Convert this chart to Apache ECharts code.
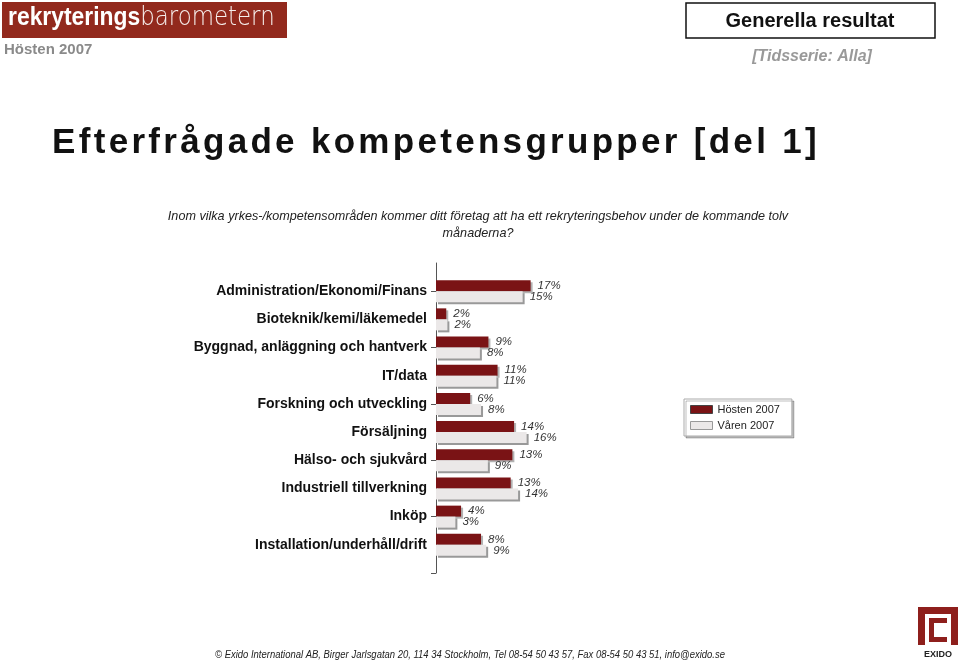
<!DOCTYPE html>
<html>
<head>
<meta charset="utf-8">
<script src="https://cdn.jsdelivr.net/npm/echarts@6/dist/echarts.min.js"></script>
<style>
    html, body { margin: 0; padding: 0; background: #fff; }
    #chart { width: 959px; height: 662px; }
</style>
</head>
<body>
<div id="chart"></div>
<script>
// kategorier (tomma poster i början och slutet ger axelns luft)
var categories = [
    "Administration/Ekonomi/Finans",
    "Bioteknik/kemi/läkemedel",
    "Byggnad, anläggning och hantverk",
    "IT/data",
    "Forskning och utveckling",
    "Försäljning",
    "Hälso- och sjukvård",
    "Industriell tillverkning",
    "Inköp",
    "Installation/underhåll/drift"
];
var seriesNames = ["Hösten 2007", "Våren 2007"];
var hosten2007 = [16.6, 1.8, 9.2, 10.8, 6.0, 13.7, 13.4, 13.1, 4.4, 7.9];
var varen2007 = [15.2, 2.0, 7.7, 10.6, 7.9, 15.9, 9.1, 14.4, 3.4, 8.8];

var red = "#7a1315";
var grey = "#ebe8e8";
var font = "'Liberation Sans', Arial, sans-serif";
var titleText = "Efterfrågade kompetensgrupper [del 1]";

function pad(arr) {
    return ["-"].concat(arr).concat(["-"]);
}

// rubriken har spärrad text, varje tecken blir en egen rich-token
function spaced(str) {
    return str.split("").map(function (ch) { return "{c|" + ch + "}"; }).join("");
}

function pctLabel(p) {
    return Math.round(p.value) + "%";
}

var myChart = echarts.init(document.getElementById("chart"));

var option = {
    backgroundColor: "#fff",
    animation: false,
    textStyle: { fontFamily: font },
    legend: {
        data: [
            { name: seriesNames[0], itemStyle: { borderColor: "#444", borderWidth: 1 } },
            { name: seriesNames[1], itemStyle: { borderColor: "#999", borderWidth: 1 } }
        ],
        orient: "vertical",
        left: 684,
        top: 399,
        itemWidth: 22,
        itemHeight: 8,
        itemGap: 5,
        padding: [5, 12, 5, 6],
        icon: "rect",
        backgroundColor: "#fff",
        borderColor: "#aaa",
        borderWidth: 1,
        shadowColor: "rgba(0,0,0,0.25)",
        shadowOffsetX: 2,
        shadowOffsetY: 2,
        shadowBlur: 0,
        textStyle: { fontSize: 11, color: "#222", fontFamily: font }
    },
    grid: { left: 436, top: 263, width: 228, height: 310 },
    xAxis: {
        type: "value",
        min: 0,
        max: 40,
        show: false
    },
    yAxis: {
        type: "category",
        inverse: true,
        boundaryGap: false,
        data: pad(categories).map(function (c) { return c === "-" ? "" : c; }),
        axisLine: { show: true, lineStyle: { color: "#555", width: 1 } },
        axisTick: {
            show: true,
            length: 5,
            interval: function (i) { return i % 2 === 1; },
            lineStyle: { color: "#555" }
        },
        axisLabel: {
            interval: 0,
            fontSize: 14,
            fontWeight: "bold",
            color: "#111",
            margin: 9,
            fontFamily: font
        },
        splitLine: { show: false }
    },
    series: [
        {
            name: seriesNames[0],
            type: "bar",
            data: pad(hosten2007),
            barWidth: 11,
            barGap: "0%",
            itemStyle: {
                color: red,
                shadowColor: "rgba(0,0,0,0.3)",
                shadowOffsetX: 2,
                shadowOffsetY: 2,
                shadowBlur: 0
            },
            label: {
                show: true,
                position: "right",
                distance: 7,
                formatter: pctLabel,
                fontStyle: "italic",
                fontSize: 11.5,
                color: "#333",
                fontFamily: font
            }
        },
        {
            name: seriesNames[1],
            type: "bar",
            data: pad(varen2007),
            barWidth: 11,
            barGap: "0%",
            itemStyle: {
                color: grey,
                shadowColor: "rgba(0,0,0,0.4)",
                shadowOffsetX: 2,
                shadowOffsetY: 2,
                shadowBlur: 0
            },
            label: {
                show: true,
                position: "right",
                distance: 7,
                formatter: pctLabel,
                fontStyle: "italic",
                fontSize: 11.5,
                color: "#333",
                fontFamily: font
            }
        }
    ],
    graphic: [
        // logga uppe till vänster
        { type: "rect", shape: { x: 2, y: 2, width: 285, height: 36 }, style: { fill: "#92291d" } },
        {
            type: "text", x: 8, y: 5, scaleX: 0.88,
            style: {
                text: "{a|rekryterings}{b|barometern}",
                verticalAlign: "top",
                rich: {
                    a: { fontSize: 26, fontWeight: "bold", fill: "#fff", fontFamily: font },
                    b: { fontSize: 26, fontWeight: "lighter", fill: "#f6eeec", fontFamily: "'DejaVu Sans', sans-serif" }
                }
            }
        },
        { type: "text", left: 4, top: 42, style: { text: "Hösten 2007", fontSize: 15, fontWeight: "bold", fill: "#8a8a8a", fontFamily: font } },
        // ruta uppe till höger
        { type: "rect", shape: { x: 686, y: 3, width: 249, height: 35 }, style: { fill: "#fff", stroke: "#111", lineWidth: 1.5 } },
        { type: "text", x: 810, y: 21, style: { text: "Generella resultat", fontSize: 20, fontWeight: "bold", fill: "#111", align: "center", verticalAlign: "middle", fontFamily: font } },
        { type: "text", x: 812, y: 57, style: { text: "[Tidsserie: Alla]", fontSize: 16, fontWeight: "bold", fontStyle: "italic", fill: "#999", align: "center", verticalAlign: "middle", fontFamily: font } },
        // rubrik
        {
            type: "text", x: 436, y: 143,
            style: {
                text: spaced(titleText),
                align: "center",
                verticalAlign: "middle",
                rich: {
                    c: { fontSize: 35, fontWeight: "bold", fill: "#111", fontFamily: font, padding: [0, 3.3, 0, 0] }
                }
            }
        },
        // fråga
        { type: "text", x: 478, y: 216, scaleX: 0.97, style: { text: "Inom vilka yrkes-/kompetensområden kommer ditt företag att ha ett rekryteringsbehov under de kommande tolv", fontSize: 13, fontStyle: "italic", fill: "#222", align: "center", verticalAlign: "middle", fontFamily: font } },
        { type: "text", x: 478, y: 233, scaleX: 0.97, style: { text: "månaderna?", fontSize: 13, fontStyle: "italic", fill: "#222", align: "center", verticalAlign: "middle", fontFamily: font } },
        // sidfot
        { type: "text", x: 470, y: 655, scaleX: 0.86, style: { text: "© Exido International AB, Birger Jarlsgatan 20, 114 34 Stockholm, Tel 08-54 50 43 57, Fax 08-54 50 43 51, info@exido.se", fontSize: 11, fontStyle: "italic", fill: "#222", align: "center", verticalAlign: "middle", fontFamily: font } },
        // EXIDO-logga
        { type: "rect", shape: { x: 918, y: 607, width: 40, height: 38 }, style: { fill: "#8e1f1c" } },
        { type: "rect", shape: { x: 925, y: 614, width: 26, height: 31 }, style: { fill: "#fff" } },
        { type: "rect", shape: { x: 929, y: 618, width: 18, height: 24 }, style: { fill: "#8e1f1c" } },
        { type: "rect", shape: { x: 934, y: 623, width: 13, height: 14 }, style: { fill: "#fff" } },
        { type: "text", x: 938, y: 655, style: { text: "EXIDO", fontSize: 9, fontWeight: "bold", fill: "#222", align: "center", verticalAlign: "middle", fontFamily: font } }
    ]
};

option && myChart.setOption(option);
</script>
</body>
</html>
